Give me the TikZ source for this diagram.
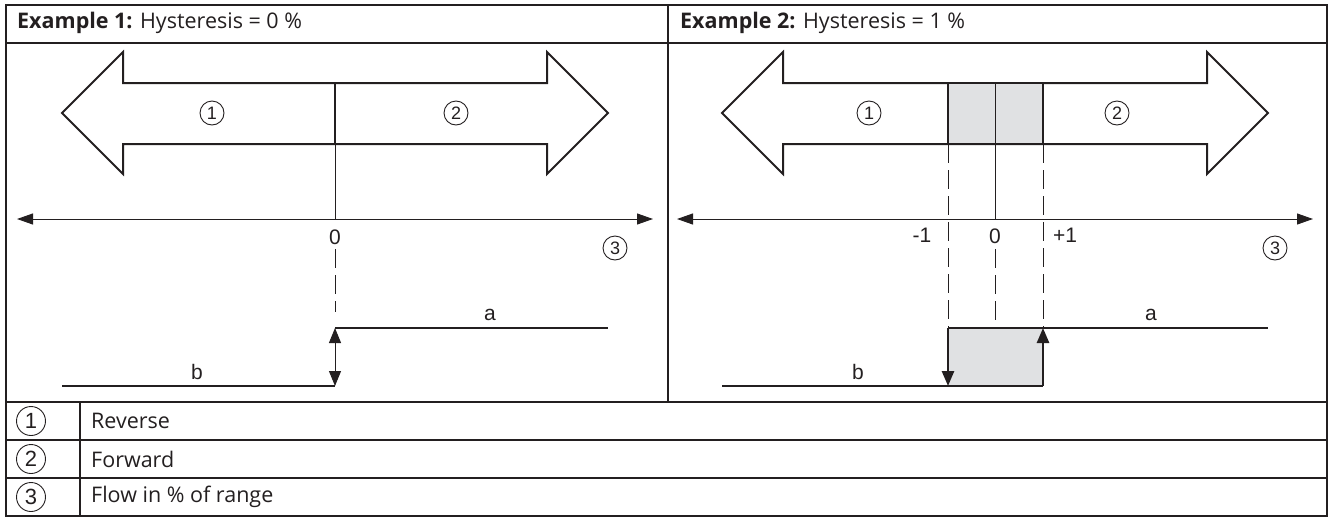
\documentclass[tikz,border=0pt]{standalone}
\usepackage{fontspec}
\setmainfont{Open Sans}
\newfontfamily\figfont{Liberation Sans}
\usetikzlibrary{arrows.meta}
\definecolor{inkgray}{RGB}{35,31,32}
\definecolor{bandgray}{RGB}{224,225,227}
\tikzset{
  frameline/.style={draw=inkgray,line width=1.2pt},
  thinline/.style={draw=inkgray,line width=1pt},
  heavyline/.style={draw=inkgray,line width=2.6pt},
  outline/.style={draw=inkgray,line width=2pt,line join=miter},
  guideline/.style={draw=inkgray,line width=1pt,dash pattern=on 19pt off 7pt},
  axistips/.style={{Triangle[length=16pt,width=11pt]}-{Triangle[length=16pt,width=11pt]}},
  steptips/.style={{Triangle[length=15pt,width=12pt]}-{Triangle[length=15pt,width=12pt]}},
  steptip/.style={-{Triangle[length=15pt,width=12pt]}},
  callout/.style={circle,draw=inkgray,line width=0.9pt,minimum size=24pt,inner sep=0pt,
    text=inkgray,font=\figfont\fontsize{18}{18}\selectfont},
  keycircle/.style={callout,minimum size=29pt,font=\figfont\fontsize{22}{22}\selectfont},
  ticklabel/.style={inner sep=0pt,text=inkgray,font=\figfont\fontsize{21}{21}\selectfont},
  headtext/.style={anchor=west,inner sep=0pt,text=inkgray,font=\fontsize{21.5}{21.5}\selectfont},
  legendtext/.style={headtext}
}
\begin{document}
\begin{tikzpicture}[x=1pt,y=-1pt]
\useasboundingbox (0,0) rectangle (1330,517);

% table
\draw[frameline] (6,5) rectangle (1327,516);
\draw[frameline] (668,5) -- (668,402);
\draw[frameline] (6,43) -- (1327,43);
\draw[frameline] (6,402) -- (1327,402);
\draw[frameline] (6,440) -- (1327,440);
\draw[frameline] (6,478) -- (1327,478);
\draw[frameline] (80,402) -- (80,516);

\node[headtext] (headA) at (17,23) {\textbf{Example 1:} Hysteresis = 0 \%};
\node[headtext] (headB) at (680,23) {\textbf{Example 2:} Hysteresis = 1 \%};

% legend
\node[keycircle] (keyA) at (31,421) {1};
\node[legendtext] (keyAtext) at (91,421) {Reverse};
\node[keycircle] (keyB) at (31,459) {2};
\node[legendtext] (keyBtext) at (91,459) {Forward};
\node[keycircle] (keyC) at (31,497) {3};
\node[legendtext] (keyCtext) at (91,497) {Flow in \% of range};

% example 1
\begin{scope}[xshift=335pt]
\draw[outline] (0,83) -- (-212,83) -- (-212,52) -- (-273,113) -- (-212,174) -- (-212,144)
  -- (212,144) -- (212,174) -- (273,113) -- (212,52) -- (212,83) -- cycle;
\coordinate (midtopA) at (0,83);
\coordinate (midbotA) at (0,144);
\coordinate (axcA) at (0,219);
\draw[heavyline] (midtopA) -- (midbotA);
\draw[thinline] (midbotA) -- (axcA);
\coordinate (axLA) at (-318,219);
\coordinate (axRA) at (318,219);
\draw[thinline,axistips] (axLA) -- (axRA);
\node[ticklabel] (zeroA) at (0,237) {0};
\node[callout] (revA) at (-123,113) {1};
\node[callout] (fwdA) at (121,113) {2};
\node[callout] (flowA) at (280,248) {3};
\coordinate (dashtopA) at (0,249);
\coordinate (dashendA) at (0,312);
\draw[guideline] (dashtopA) -- (dashendA);
\coordinate (bstartA) at (-273,386);
\coordinate (stepbA) at (0,386);
\coordinate (stepaA) at (0,328);
\coordinate (aendA) at (273,328);
\draw[heavyline] (bstartA) -- (stepbA);
\draw[heavyline] (stepaA) -- (aendA);
\draw[thinline,steptips] (stepbA) -- (stepaA);
\node[ticklabel] (aA) at (155,315) {a};
\node[ticklabel] (bA) at (-138,372) {b};
\end{scope}

% example 2
\begin{scope}[xshift=995pt]
\draw[outline] (0,83) -- (-212,83) -- (-212,52) -- (-273,113) -- (-212,174) -- (-212,144)
  -- (212,144) -- (212,174) -- (273,113) -- (212,52) -- (212,83) -- cycle;
\coordinate (boxtlB) at (-47,83);
\coordinate (boxbrB) at (48,144);
\fill[bandgray] (boxtlB) rectangle (boxbrB);
\coordinate (midtopB) at (0,83);
\coordinate (axcB) at (0,219);
\draw[thinline] (midtopB) -- (axcB);
\draw[heavyline] (boxtlB) rectangle (boxbrB);
\coordinate (axLB) at (-318,219);
\coordinate (axRB) at (318,219);
\draw[thinline,axistips] (axLB) -- (axRB);
\node[ticklabel] (minusB) at (-73,235) {-1};
\node[ticklabel] (zeroB) at (0,236) {0};
\node[ticklabel] (plusB) at (70,235) {+1};
\node[callout] (revB) at (-126,113) {1};
\node[callout] (fwdB) at (122,113) {2};
\node[callout] (flowB) at (280,248) {3};
\coordinate (lowtopB) at (-47,144);
\coordinate (hightopB) at (48,144);
\coordinate (lowB) at (-47,328);
\coordinate (highB) at (48,328);
\coordinate (dashtopB) at (0,249);
\coordinate (dashendB) at (0,322);
\draw[guideline] (lowtopB) -- (lowB);
\draw[guideline] (hightopB) -- (highB);
\draw[guideline] (dashtopB) -- (dashendB);
\coordinate (bstartB) at (-273,386);
\coordinate (lowbotB) at (-47,386);
\coordinate (highbotB) at (48,386);
\coordinate (aendB) at (273,328);
\fill[bandgray] (lowB) rectangle (highbotB);
\draw[heavyline] (bstartB) -- (highbotB);
\draw[heavyline] (lowB) -- (aendB);
\draw[heavyline,steptip] (lowB) -- (lowbotB);
\draw[heavyline,steptip] (highbotB) -- (highB);
\node[ticklabel] (aB) at (156,315) {a};
\node[ticklabel] (bB) at (-137,372) {b};
\end{scope}
\end{tikzpicture}
\end{document}
